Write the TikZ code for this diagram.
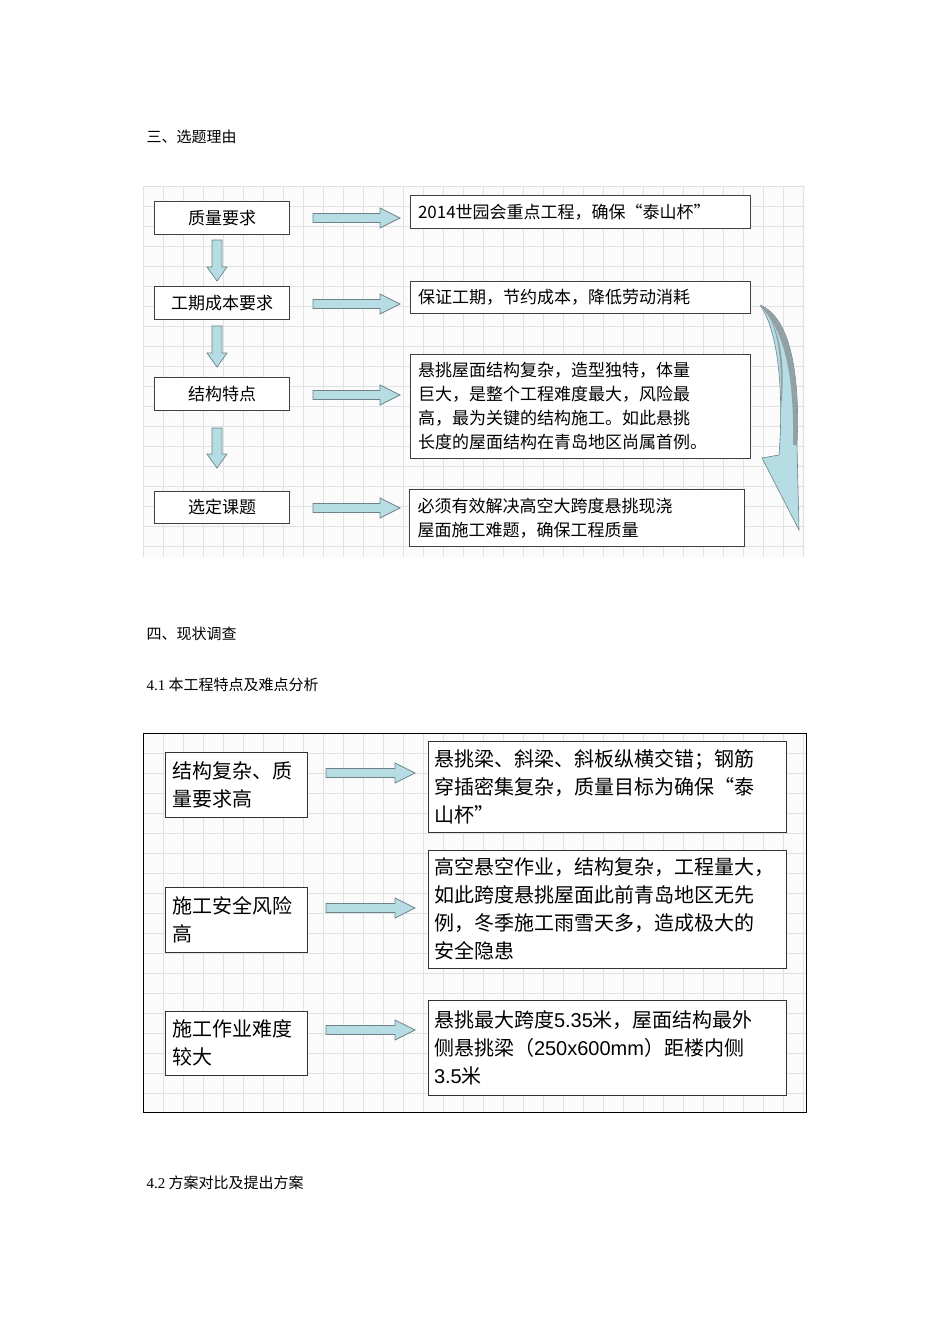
\documentclass[tikz,border=0pt]{standalone}
\usepackage{fontspec}
\setmainfont{Liberation Serif}
\newfontfamily\cjk{Noto Sans CJK SC}
\definecolor{gridc}{RGB}{222,226,226}
\definecolor{arrfill}{RGB}{183,221,228}
\definecolor{arrline}{RGB}{110,130,135}
\tikzset{
  lbox/.style={draw=black!75,line width=0.8pt,fill=white,minimum width=135pt,align=center,font=\cjk\fontsize{17}{22}\selectfont},
  rbox/.style={draw=black!75,line width=0.8pt,fill=white,align=left,inner xsep=8pt,inner ysep=0pt,font=\cjk\fontsize{17}{24}\selectfont},
  blockarr/.style={draw=arrline,fill=arrfill,line width=0.7pt,line join=miter},
  head/.style={anchor=west,font=\cjk\fontsize{15}{17}\selectfont},
}
% horizontal block arrow: x1, x2, y
\newcommand\harr[3]{\filldraw[blockarr] (#1,#3-4.5) -- (#2-20,#3-4.5) -- (#2-20,#3-10) -- (#2,#3) -- (#2-20,#3+10) -- (#2-20,#3+4.5) -- (#1,#3+4.5) -- cycle;}
% vertical block arrow: x, y1, y2
\newcommand\varr[3]{\filldraw[blockarr] (#1-5,#2) -- (#1-5,#3-14) -- (#1-10,#3-14) -- (#1,#3) -- (#1+10,#3-14) -- (#1+5,#3-14) -- (#1+5,#2) -- cycle;}
\begin{document}
\begin{tikzpicture}[x=1pt,y=-1pt]
\useasboundingbox (0,0) rectangle (950,1344);
\fill[white] (0,0) rectangle (950,1344);
% headings
\node[head] (h1) at (143,137) {三、选题理由};
\node[head] (h2) at (143,634) {四、现状调查};
\node[head] (h3) at (143,685) {{\rmfamily 4.1} 本工程特点及难点分析};
\node[head] (h4) at (143,1183) {{\rmfamily 4.2} 方案对比及提出方案};
% panel 1 grid
\fill[white!97!gray] (143,186) rectangle (805,557);
\foreach \x in {143,163,...,805} \draw[gridc] (\x,186) -- (\x,557);
\foreach \y in {186,206,...,557} \draw[gridc] (143,\y) -- (805,\y);
% left boxes
\node[lbox,minimum height=33pt] (a1) at (222,218) {质量要求};
\node[lbox,minimum height=33pt] (a2) at (222,303) {工期成本要求};
\node[lbox,minimum height=33pt] (a3) at (222,394) {结构特点};
\node[lbox,minimum height=32pt] (a4) at (222,507) {选定课题};
% right boxes
\node[rbox,text width=324pt,minimum height=33pt] (b1) at (580,212) {2014世园会重点工程，确保“泰山杯”};
\node[rbox,text width=324pt,minimum height=32pt] (b2) at (580,297) {保证工期，节约成本，降低劳动消耗};
\node[rbox,text width=324pt,minimum height=104pt] (b3) at (580,406) {悬挑屋面结构复杂，造型独特，体量\\巨大，是整个工程难度最大，风险最\\高，最为关键的结构施工。如此悬挑\\长度的屋面结构在青岛地区尚属首例。};
\node[rbox,text width=319pt,minimum height=57pt] (b4) at (577,518) {必须有效解决高空大跨度悬挑现浇\\屋面施工难题，确保工程质量};
% arrows
\harr{313}{400}{218}
\harr{313}{400}{304}
\harr{313}{400}{395}
\harr{313}{400}{508}
\varr{217}{240}{281}
\varr{217}{326}{367}
\varr{217}{428}{468}
% curved arrow
\filldraw[draw=arrline,fill=arrfill,line width=0.6pt]
 (760,305) .. controls (792,318) and (800,380) .. (797,445) -- (799,530) -- (762,458) -- (779,455)
 .. controls (784,390) and (778,330) .. (760,305);
\fill[arrline!75] (760,305) .. controls (776,320) and (782,350) .. (781,400) -- (781,410)
 .. controls (786,360) and (780,325) .. (760,305);
\fill[arrline!75] (760,305) .. controls (792,318) and (800,380) .. (797,445) -- (793,445)
 .. controls (794,385) and (788,335) .. (760,305);
% panel 2
\fill[white!97!gray] (143,733) rectangle (806,1112);
\foreach \x in {143,163,...,806} \draw[gridc] (\x,733) -- (\x,1112);
\foreach \y in {733,753,...,1112} \draw[gridc] (143,\y) -- (806,\y);
\draw[black,line width=1pt] (143,733) rectangle (806,1112);
\tikzset{lbox2/.style={draw=black!80,line width=0.8pt,fill=white,text width=128pt,inner xsep=7pt,align=left,font=\cjk\fontsize{20}{28}\selectfont},
 rbox2/.style={draw=black!80,line width=0.8pt,fill=white,text width=346pt,inner xsep=6pt,inner ysep=0pt,align=left,font=\cjk\fontsize{20}{28}\selectfont}}
\node[lbox2,minimum height=65pt] (c1) at (236,785) {结构复杂、质\\量要求高};
\node[lbox2,minimum height=65pt] (c2) at (236,920) {施工安全风险\\高};
\node[lbox2,minimum height=64pt] (c3) at (236,1043) {施工作业难度\\较大};
\node[rbox2,minimum height=91pt] (e1) at (607,787) {悬挑梁、斜梁、斜板纵横交错；钢筋\\穿插密集复杂，质量目标为确保“泰\\山杯”};
\node[rbox2,minimum height=118pt] (e2) at (607,909) {高空悬空作业，结构复杂，工程量大，\\如此跨度悬挑屋面此前青岛地区无先\\例，冬季施工雨雪天多，造成极大的\\安全隐患};
\node[rbox2,minimum height=95pt] (e3) at (607,1048) {悬挑最大跨度{\fontspec{Liberation Sans}5.35}米，屋面结构最外\\侧悬挑梁（{\fontspec{Liberation Sans}250x600mm}）距楼内侧\\{\fontspec{Liberation Sans}3.5}米};
\harr{326}{415}{773}
\harr{326}{415}{908}
\harr{326}{415}{1030}
\end{tikzpicture}
\end{document}
